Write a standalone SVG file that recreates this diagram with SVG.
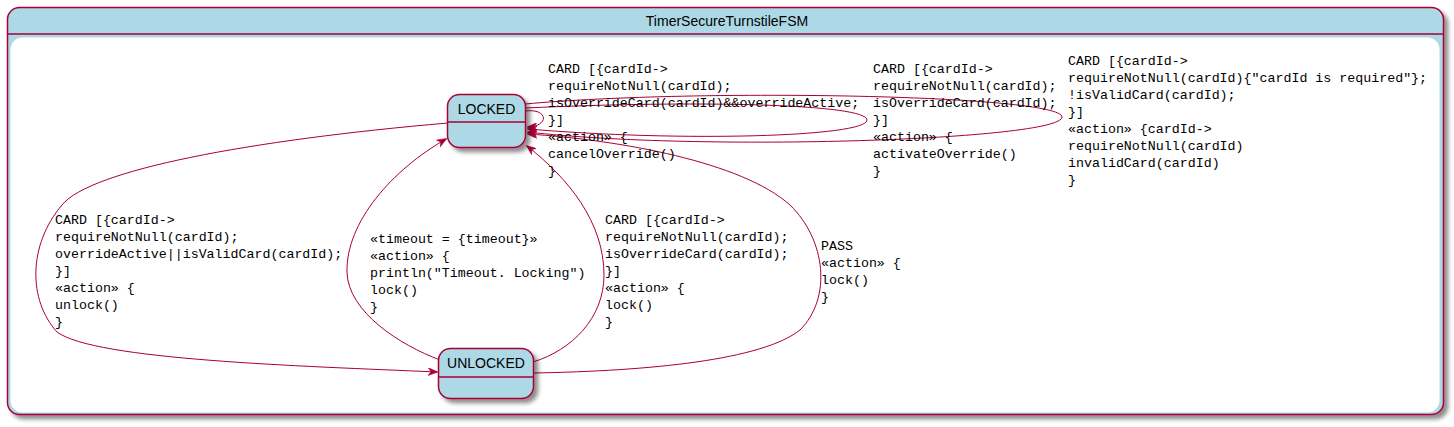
<svg xmlns="http://www.w3.org/2000/svg" width="1454" height="427" viewBox="0 0 1454 427">
<style>
.box{fill:#ADD8E6;stroke:#A80036;stroke-width:1.5}
.div{stroke:#A80036;stroke-width:1.5;fill:none}
.edge{fill:none;stroke:#A80036;stroke-width:1}
.name{font-family:"Liberation Sans",Arial,sans-serif;font-size:14px;fill:#000;text-anchor:middle}
.lbl{font-family:"Liberation Mono","Courier New",monospace;font-size:13.3px;fill:#000}
</style>
<defs>
<filter id="sh" x="-10%" y="-10%" width="130%" height="140%">
<feGaussianBlur in="SourceAlpha" stdDeviation="2"/>
<feOffset dx="4" dy="4" result="b"/>
<feComponentTransfer><feFuncA type="linear" slope="0.45"/></feComponentTransfer>
<feMerge><feMergeNode/><feMergeNode in="SourceGraphic"/></feMerge>
</filter>
<marker id="ah" viewBox="0 0 10 8" refX="9" refY="4" markerWidth="10" markerHeight="8" markerUnits="userSpaceOnUse" orient="auto">
<path d="M0,0 L10,4 L0,8 L3,4 Z" fill="#A80036" stroke="#A80036" stroke-width="0.5"/>
</marker>
</defs>
<g id="TimerSecureTurnstileFSM">
<rect class="box" x="7.5" y="7.5" width="1436" height="407" rx="12" filter="url(#sh)"/>
<line class="div" x1="7.5" y1="34" x2="1443.5" y2="34"/>
<rect x="10.5" y="37.5" width="1429" height="375" rx="12" fill="#FFFFFF"/>
<text class="name" x="727" y="26">TimerSecureTurnstileFSM</text>
</g>
<g id="connectors">
<path class="edge" marker-end="url(#ah)" d="M448,123 C 250,140 90,170 62,205 C 28,245 28,300 57,332 C 95,360 300,366 437,372"/>
<path class="edge" marker-end="url(#ah)" d="M440,360 C 400,345 348,312 347,272 C 346,222 392,170 446,139"/>
<path class="edge" marker-end="url(#ah)" d="M533,362 C 572,350 604,318 604,275 C 604,222 568,178 527,146"/>
<path class="edge" marker-end="url(#ah)" d="M533,373 C 650,371 762,360 800,330 C 832,298 826,240 790,205 C 742,162 620,140 528,134"/>
<path class="edge" marker-end="url(#ah)" d="M525,111 C 548,108 550,126 528,127"/>
<path class="edge" marker-end="url(#ah)" d="M525,108 C 700,100 867,104 867,120 C 867,137 680,142 528,129"/>
<path class="edge" marker-end="url(#ah)" d="M525,104 C 700,88 1062,95 1062,117 C 1062,140 700,152 528,132"/>
</g>
<g id="LOCKED">
<rect class="box" x="447.5" y="94.5" width="78" height="53" rx="12" filter="url(#sh)"/>
<line class="div" x1="447.5" y1="122" x2="525.5" y2="122"/>
<text class="name" x="486.5" y="114">LOCKED</text>
</g>
<g id="UNLOCKED">
<rect class="box" x="438.5" y="348.5" width="95" height="50" rx="12" filter="url(#sh)"/>
<line class="div" x1="438.5" y1="377" x2="533.5" y2="377"/>
<text class="name" x="486" y="368">UNLOCKED</text>
</g>
<g id="labels">
<text class="lbl" x="548" y="73">CARD [{cardId-&gt;</text>
<text class="lbl" x="548" y="90">requireNotNull(cardId);</text>
<text class="lbl" x="548" y="107">isOverrideCard(cardId)&amp;&amp;overrideActive;</text>
<text class="lbl" x="548" y="124">}]</text>
<text class="lbl" x="548" y="141">«action» {</text>
<text class="lbl" x="548" y="158">cancelOverride()</text>
<text class="lbl" x="548" y="175">}</text>

<text class="lbl" x="873" y="73">CARD [{cardId-&gt;</text>
<text class="lbl" x="873" y="90">requireNotNull(cardId);</text>
<text class="lbl" x="873" y="107">isOverrideCard(cardId);</text>
<text class="lbl" x="873" y="124">}]</text>
<text class="lbl" x="873" y="141">«action» {</text>
<text class="lbl" x="873" y="158">activateOverride()</text>
<text class="lbl" x="873" y="175">}</text>

<text class="lbl" x="1068" y="65">CARD [{cardId-&gt;</text>
<text class="lbl" x="1068" y="82">requireNotNull(cardId){"cardId is required"};</text>
<text class="lbl" x="1068" y="99">!isValidCard(cardId);</text>
<text class="lbl" x="1068" y="116">}]</text>
<text class="lbl" x="1068" y="133">«action» {cardId-&gt;</text>
<text class="lbl" x="1068" y="150">requireNotNull(cardId)</text>
<text class="lbl" x="1068" y="167">invalidCard(cardId)</text>
<text class="lbl" x="1068" y="184">}</text>

<text class="lbl" x="55" y="224">CARD [{cardId-&gt;</text>
<text class="lbl" x="55" y="241">requireNotNull(cardId);</text>
<text class="lbl" x="55" y="258">overrideActive||isValidCard(cardId);</text>
<text class="lbl" x="55" y="275">}]</text>
<text class="lbl" x="55" y="292">«action» {</text>
<text class="lbl" x="55" y="309">unlock()</text>
<text class="lbl" x="55" y="326">}</text>

<text class="lbl" x="370" y="243">«timeout = {timeout}»</text>
<text class="lbl" x="370" y="260">«action» {</text>
<text class="lbl" x="370" y="277">println("Timeout. Locking")</text>
<text class="lbl" x="370" y="294">lock()</text>
<text class="lbl" x="370" y="311">}</text>

<text class="lbl" x="605" y="224">CARD [{cardId-&gt;</text>
<text class="lbl" x="605" y="241">requireNotNull(cardId);</text>
<text class="lbl" x="605" y="258">isOverrideCard(cardId);</text>
<text class="lbl" x="605" y="275">}]</text>
<text class="lbl" x="605" y="292">«action» {</text>
<text class="lbl" x="605" y="309">lock()</text>
<text class="lbl" x="605" y="326">}</text>

<text class="lbl" x="821" y="250">PASS</text>
<text class="lbl" x="821" y="267">«action» {</text>
<text class="lbl" x="821" y="284">lock()</text>
<text class="lbl" x="821" y="301">}</text>
</g>
</svg>
